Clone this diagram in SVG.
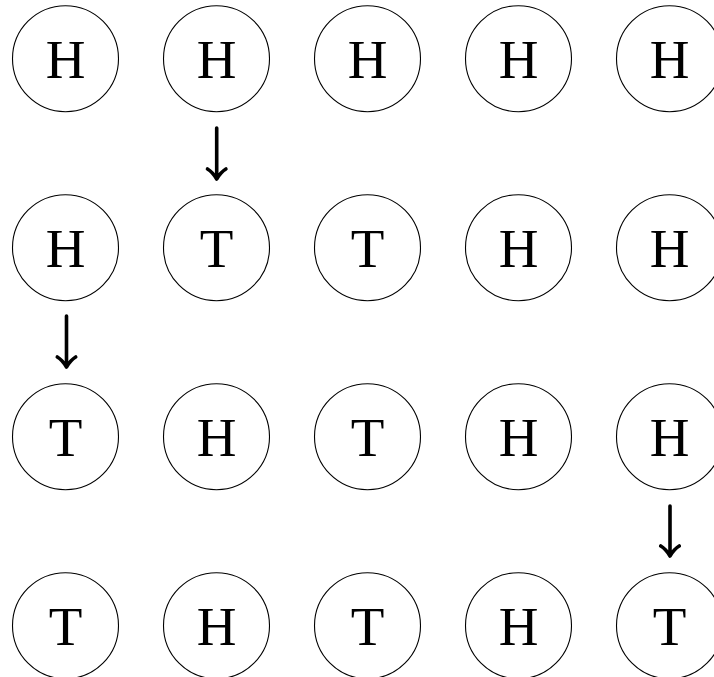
<svg xmlns="http://www.w3.org/2000/svg" width="714" height="677" viewBox="0 0 714 677">
<defs>
<style>
.n circle{fill:#fff;stroke:#000;stroke-width:1.1}
.n text{font-family:"Liberation Serif","DejaVu Serif",serif;font-size:55px;text-anchor:middle;fill:#000}
.a{fill:none;stroke:#000;stroke-width:3.6;stroke-linecap:round;stroke-linejoin:round}
</style>
</defs>
<rect width="714" height="677" fill="#fff"/>
<g id="n11" class="n"><circle cx="65.5" cy="58.7" r="53"/><text x="65.5" y="78.3">H</text></g>
<g id="n12" class="n"><circle cx="216.5" cy="58.7" r="53"/><text x="216.5" y="78.3">H</text></g>
<g id="n13" class="n"><circle cx="367.5" cy="58.7" r="53"/><text x="367.5" y="78.3">H</text></g>
<g id="n14" class="n"><circle cx="518.5" cy="58.7" r="53"/><text x="518.5" y="78.3">H</text></g>
<g id="n15" class="n"><circle cx="669.5" cy="58.7" r="53"/><text x="669.5" y="78.3">H</text></g>
<g id="n21" class="n"><circle cx="65.5" cy="247.7" r="53"/><text x="65.5" y="267.3">H</text></g>
<g id="n22" class="n"><circle cx="216.5" cy="247.7" r="53"/><text x="216.5" y="267.3">T</text></g>
<g id="n23" class="n"><circle cx="367.5" cy="247.7" r="53"/><text x="367.5" y="267.3">T</text></g>
<g id="n24" class="n"><circle cx="518.5" cy="247.7" r="53"/><text x="518.5" y="267.3">H</text></g>
<g id="n25" class="n"><circle cx="669.5" cy="247.7" r="53"/><text x="669.5" y="267.3">H</text></g>
<g id="n31" class="n"><circle cx="65.5" cy="436.7" r="53"/><text x="65.5" y="456.3">T</text></g>
<g id="n32" class="n"><circle cx="216.5" cy="436.7" r="53"/><text x="216.5" y="456.3">H</text></g>
<g id="n33" class="n"><circle cx="367.5" cy="436.7" r="53"/><text x="367.5" y="456.3">T</text></g>
<g id="n34" class="n"><circle cx="518.5" cy="436.7" r="53"/><text x="518.5" y="456.3">H</text></g>
<g id="n35" class="n"><circle cx="669.5" cy="436.7" r="53"/><text x="669.5" y="456.3">H</text></g>
<g id="n41" class="n"><circle cx="65.5" cy="625.7" r="53"/><text x="65.5" y="645.3">T</text></g>
<g id="n42" class="n"><circle cx="216.5" cy="625.7" r="53"/><text x="216.5" y="645.3">H</text></g>
<g id="n43" class="n"><circle cx="367.5" cy="625.7" r="53"/><text x="367.5" y="645.3">T</text></g>
<g id="n44" class="n"><circle cx="518.5" cy="625.7" r="53"/><text x="518.5" y="645.3">H</text></g>
<g id="n45" class="n"><circle cx="669.5" cy="625.7" r="53"/><text x="669.5" y="645.3">T</text></g>
<g id="connectors">
<path class="a" d="M216.7 128 V178.5 M207.5 169 Q212.5 172 216.7 179 Q220.9 172 225.9 169"/>
<path class="a" d="M66.5 316 V366.5 M57.3 357 Q62.3 360 66.5 367 Q70.7 360 75.7 357"/>
<path class="a" d="M670 506 V555.5 M660.8 546 Q665.8 549 670 556 Q674.2 549 679.2 546"/>
</g>
</svg>
